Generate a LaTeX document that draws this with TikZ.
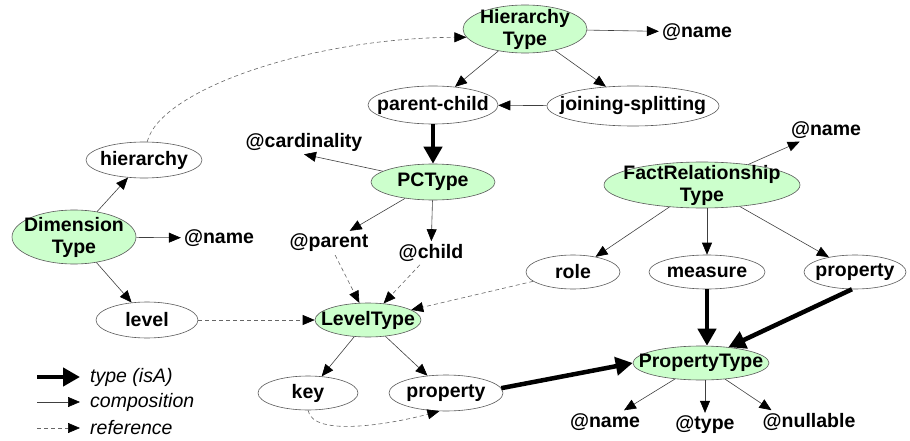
\documentclass[tikz,border=0pt]{standalone}
\usepackage{fontspec}
\setmainfont{Liberation Sans}
\usetikzlibrary{shapes.geometric,arrows.meta}
\definecolor{ngreen}{RGB}{204,255,204}
\begin{document}
\begin{tikzpicture}[x=1pt,y=-1pt,
 font=\fontsize{19.5}{22}\selectfont\bfseries,
 ent/.style={ellipse, draw=black!65, line width=0.6pt, inner sep=0pt},
 typ/.style={ent, fill=ngreen},
 lbl/.style={align=center, inner sep=0pt},
 att/.style={inner sep=3pt},
 comp/.style={draw=black!75, line width=0.6pt, -{Triangle[length=12pt,width=10pt,color=black]}},
 isa/.style={draw=black, line width=4.5pt, -{Triangle[length=17pt,width=18pt]}},
 ref/.style={draw=black!60, line width=0.6pt, dash pattern=on 4pt off 3pt, -{Triangle[length=12pt,width=10pt,color=black]}},
 leg/.style={font=\fontsize{19.5}{22}\selectfont\mdseries\itshape, anchor=west, inner sep=0pt}
]
\useasboundingbox (0,0) rectangle (910,441);

% entity nodes
\node[typ, minimum width=124pt, minimum height=48pt, label={[lbl]center:Hierarchy\\Type}] (ht) at (525,29) {};
\node[att] (htname) at (697,32) {@name};
\node[ent, minimum width=130pt, minimum height=38pt, label={[lbl]center:parent-child}] (pc) at (433,105) {};
\node[ent, minimum width=172pt, minimum height=40pt, label={[lbl]center:joining-splitting}] (js) at (633,106) {};
\node[ent, minimum width=116pt, minimum height=36pt, label={[lbl]center:hierarchy}] (hier) at (144,160) {};
\node[att] (card) at (304,142) {@cardinality};
\node[typ, minimum width=124pt, minimum height=36pt, label={[lbl]center:PCType}] (pct) at (433,182) {};
\node[typ, minimum width=196pt, minimum height=46pt, label={[lbl]center:FactRelationship\\Type}] (fr) at (702,185) {};
\node[att] (frname) at (826,130) {@name};
\node[typ, minimum width=124pt, minimum height=54pt, label={[lbl]center:Dimension\\Type}] (dt) at (74,237) {};
\node[att] (dtname) at (219,238) {@name};
\node[att] (par) at (329,243) {@parent};
\node[att] (chi) at (431,253) {@child};
\node[ent, minimum width=102pt, minimum height=36pt, label={[lbl]center:level}] (lvl) at (147,320) {};
\node[typ, minimum width=106pt, minimum height=34pt, label={[lbl]center:LevelType}] (lt) at (368,320) {};
\node[ent, minimum width=94pt, minimum height=34pt, label={[lbl]center:role}] (role) at (573,272) {};
\node[ent, minimum width=116pt, minimum height=34pt, label={[lbl]center:measure}] (meas) at (707,272) {};
\node[ent, minimum width=102pt, minimum height=34pt, label={[lbl]center:property}] (frprop) at (855,272) {};
\node[typ, minimum width=136pt, minimum height=34pt, label={[lbl]center:PropertyType}] (pt) at (701,363) {};
\node[ent, minimum width=100pt, minimum height=34pt, label={[lbl]center:key}] (key) at (308,393) {};
\node[ent, minimum width=114pt, minimum height=36pt, label={[lbl]center:property}] (lprop) at (446,393) {};
\node[att] (ptname) at (605,422) {@name};
\node[att] (pttype) at (705,425) {@type};
\node[att] (ptnull) at (809,422) {@nullable};

% edges
\draw[comp] (ht) -- (htname);
\draw[comp] (ht) -- (pc);
\draw[comp] (ht) -- (js);
\draw[comp] (js) -- (pc);
\draw[isa] (pc) -- (pct);
\draw[comp] (pct) -- (card.south);
\draw[comp] (pct) -- (par);
\draw[comp] (pct) -- (chi);
\draw[ref] (hier.80) .. controls (160,90) and (310,38) .. (ht.188);
\draw[comp] (dt) -- (hier);
\draw[comp] (dt) -- (dtname);
\draw[comp] (dt) -- (lvl);
\draw[ref] (lvl) -- (lt);
\draw[ref] (par) -- (lt);
\draw[ref] (chi) -- (lt);
\draw[ref] (role) -- (lt);
\draw[comp] (fr) -- (frname);
\draw[comp] (fr) -- (role);
\draw[comp] (fr.south -| meas) -- (meas);
\draw[comp] (fr) -- (frprop);
\draw[isa] (meas) -- (meas |- pt.north);
\draw[isa] (frprop.260) -- (pt.30);
\draw[isa] (lprop.5) -- (pt.west);
\draw[comp] (lt) -- (key);
\draw[comp] (lt) -- (lprop);
\draw[ref] (key.south) .. controls +(5,28) and +(-45,12) .. (lprop.250);
\draw[comp] (pt) -- (ptname);
\draw[comp] (pt.south -| pttype) -- (pttype);
\draw[comp] (pt) -- ([xshift=12pt]ptnull.north west);

% legend
\coordinate (l1a) at (37,377); \coordinate (l1b) at (80,377);
\coordinate (l2a) at (37,402); \coordinate (l2b) at (80,402);
\coordinate (l3a) at (37,428); \coordinate (l3b) at (80,428);
\draw[isa] (l1a) -- (l1b);
\draw[comp] (l2a) -- (l2b);
\draw[ref] (l3a) -- (l3b);
\node[leg] (t1) at (90,377) {type (isA)};
\node[leg] (t2) at (90,402) {composition};
\node[leg] (t3) at (90,428) {reference};
\end{tikzpicture}
\end{document}
